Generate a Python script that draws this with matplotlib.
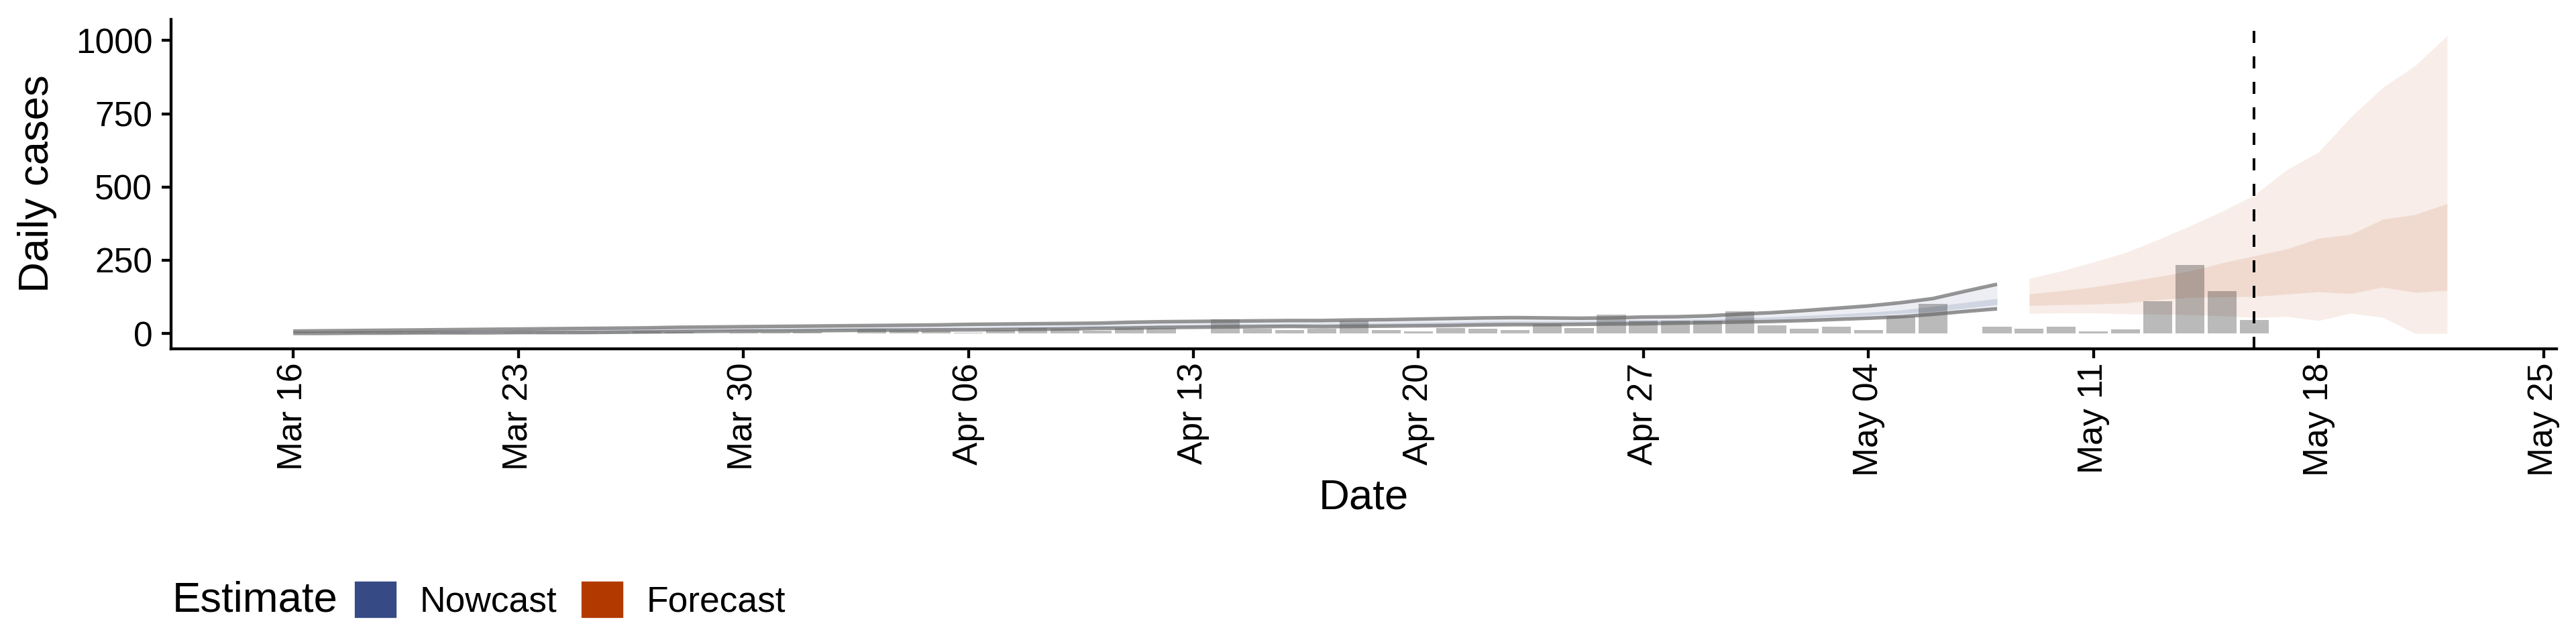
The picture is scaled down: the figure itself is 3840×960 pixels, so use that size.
import numpy as np
import pandas as pd
import matplotlib
matplotlib.use('Agg')
from matplotlib import pyplot as plt
import matplotlib.dates as mdates
from matplotlib.patches import Patch

plt.rcParams['font.family'] = ['Liberation Sans', 'DejaVu Sans']

start = pd.Timestamp('2020-03-16')

# daily reported cases, Mar 16 - May 16
cases = [1, 0, 3, 3, 3, 3, 0, 3, 3, 3,
         2, 8, 5, 1, 2, 2, 5, 0, 13, 11,
         10, 2, 12, 18, 17, 9, 18, 18, 1, 49,
         17, 12, 15, 43, 12, 8, 18, 15, 12, 31,
         18, 65, 43, 43, 43, 75, 27, 15, 24, 11,
         60, 100, 1, 24, 15, 22, 6, 13, 109, 233,
         144, 45]

# nowcast, Mar 16 - May 08
now_lo90 = [0, 0, 1, 1, 2, 2, 2, 3, 3, 3,
            4, 5, 6, 7, 8, 8, 9, 10, 11, 11,
            12, 12, 13, 14, 15, 17, 18, 20, 21, 22,
            23, 24, 23, 24, 25, 26, 27, 29, 30, 30,
            31, 32, 33, 35, 37, 39, 41, 44, 48, 52,
            57, 65, 75, 84]
now_lo50 = [2, 2, 3, 3, 4, 4, 5, 5, 6, 6,
            7, 8, 9, 10, 11, 11, 12, 13, 14, 15,
            16, 16, 17, 18, 19, 21, 22, 24, 25, 26,
            27, 28, 28, 29, 30, 32, 33, 35, 36, 36,
            37, 38, 39, 41, 43, 46, 49, 53, 57, 62,
            68, 75, 86, 98]
now_hi50 = [4, 5, 6, 7, 7, 8, 9, 10, 10, 11,
            12, 13, 14, 15, 16, 17, 18, 19, 20, 20,
            21, 22, 23, 24, 25, 27, 28, 30, 31, 32,
            33, 34, 34, 35, 36, 38, 39, 41, 42, 42,
            42, 43, 45, 47, 49, 53, 56, 61, 66, 72,
            80, 92, 106, 119]
now_hi90 = [8, 9, 10, 11, 12, 13, 14, 15, 16, 17,
            18, 19, 21, 22, 23, 24, 25, 26, 27, 28,
            29, 31, 32, 33, 34, 35, 38, 40, 41, 42,
            43, 44, 44, 46, 47, 49, 51, 53, 54, 53,
            52, 53, 56, 57, 60, 66, 71, 78, 86, 94,
            105, 119, 144, 168]

# forecast, May 09 - May 22
fc_lo90 = [68, 70, 70, 67, 66, 64, 60, 54, 58, 44, 69, 55, 0, 0]
fc_lo50 = [95, 98, 100, 104, 115, 123, 125, 126, 134, 142, 136, 158, 140, 147]
fc_hi50 = [135, 146, 159, 176, 194, 213, 241, 265, 288, 325, 338, 390, 406, 443]
fc_hi90 = [188, 213, 244, 276, 320, 367, 417, 472, 558, 619, 738, 840, 914, 1016]

case_dates = pd.date_range(start, periods=len(cases), freq='D')
now_dates = pd.date_range(start, periods=len(now_hi90), freq='D')
fc_dates = pd.date_range(now_dates[-1] + pd.Timedelta(days=1), periods=len(fc_hi90), freq='D')
report_date = pd.Timestamp('2020-05-16')

now_col = '#364B85'
fc_col = '#B23A00'

fig = plt.figure(figsize=(16, 4), dpi=240)
ax = fig.add_axes([0.0663, 0.4583, 0.9261, 0.5119])

ax.fill_between(now_dates, now_lo90, now_hi90, color=now_col, alpha=0.09, lw=0)
ax.fill_between(now_dates, now_lo50, now_hi50, color=now_col, alpha=0.15, lw=0)
ax.plot(now_dates, now_hi90, color='dimgrey', alpha=0.7, lw=1.6, solid_capstyle='butt')
ax.plot(now_dates, now_lo90, color='dimgrey', alpha=0.7, lw=1.6, solid_capstyle='butt')

ax.fill_between(fc_dates, fc_lo90, fc_hi90, color=fc_col, alpha=0.09, lw=0)
ax.fill_between(fc_dates, fc_lo50, fc_hi50, color=fc_col, alpha=0.1, lw=0)

ax.bar(case_dates, cases, width=0.9, color='black', alpha=0.27, lw=0)

ax.axvline(report_date, color='black', lw=1.2, linestyle=(0, (4.5, 5)))

ax.set_xlim(start - pd.Timedelta(days=3.81), start + pd.Timedelta(days=70.4))
ax.set_ylim(-52.7, 1073)
ax.set_yticks([0, 250, 500, 750, 1000])
ticks = pd.date_range(start, '2020-05-25', freq='7D')
ax.set_xticks(ticks)
ax.xaxis.set_major_formatter(mdates.DateFormatter('%b %d'))

for s in ['top', 'right']:
    ax.spines[s].set_visible(False)
for s in ['left', 'bottom']:
    ax.spines[s].set_linewidth(1.3)
ax.tick_params(axis='both', width=1.3, length=4.2, labelsize=15.5, colors='black')
ax.tick_params(axis='y', pad=4)
ax.tick_params(axis='x', pad=2)
for lab in ax.get_xticklabels():
    lab.set_rotation(90)

fig.text(56 / 3840, 1 - 274 / 960, 'Daily cases', rotation=90, ha='center', va='center', fontsize=19)
fig.text(2033 / 3840, 1 - 742 / 960, 'Date', ha='center', va='center', fontsize=19)

fig.text(257 / 3840, 1 - 895 / 960, 'Estimate', ha='left', va='center', fontsize=19)
handles = [Patch(color=now_col, label='Nowcast'), Patch(color=fc_col, label='Forecast')]
fig.legend(handles=handles, loc='center left', bbox_to_anchor=(530 / 3840, 1 - 895 / 960),
           ncol=2, frameon=False, fontsize=16, handlelength=1.1, handleheight=1.1,
           handletextpad=0.7, columnspacing=0.7, borderpad=0, borderaxespad=0)

fig.savefig('out.png', dpi=240)
